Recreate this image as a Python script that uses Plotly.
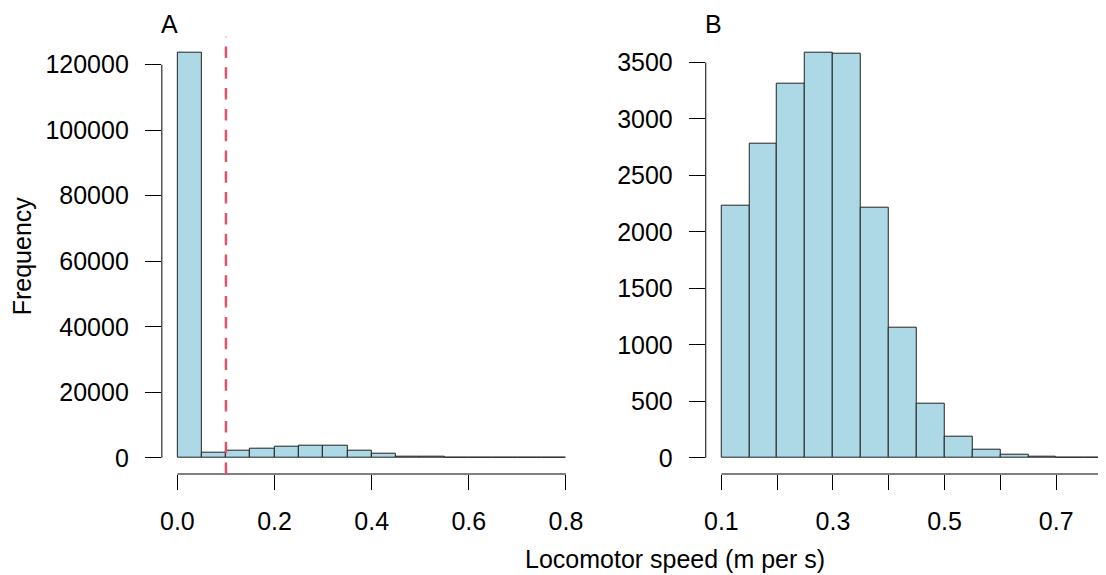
import plotly.graph_objects as go

# ---- data ----
bin_edges_all = [0.0, 0.05, 0.1, 0.15, 0.2, 0.25, 0.3, 0.35, 0.4, 0.45,
                 0.5, 0.55, 0.6, 0.65, 0.7, 0.75, 0.8]
counts_all = [123600, 1650, 2228, 2781, 3314, 3585, 3577, 2216, 1151, 483,
              186, 68, 24, 8, 2, 1]

bin_edges_moving = [0.1, 0.15, 0.2, 0.25, 0.3, 0.35, 0.4, 0.45,
                    0.5, 0.55, 0.6, 0.65, 0.7, 0.75, 0.8]
counts_moving = [2228, 2781, 3314, 3585, 3577, 2216, 1151, 483,
                 186, 68, 24, 8, 2, 1]

threshold = 0.1

xticks_a = [0.0, 0.2, 0.4, 0.6, 0.8]
xticklabels_a = ["0.0", "0.2", "0.4", "0.6", "0.8"]
yticks_a = [0, 20000, 40000, 60000, 80000, 100000, 120000]

xticks_b = [0.1, 0.2, 0.3, 0.4, 0.5, 0.6, 0.7, 0.8]
xticklabels_b = ["0.1", "", "0.3", "", "0.5", "", "0.7", ""]
yticks_b = [0, 500, 1000, 1500, 2000, 2500, 3000, 3500]

panel_titles = ["A", "B"]
ylabel = "Frequency"
xlabel = "Locomotor speed (m per s)"

# ---- styling ----
OFF = 8                      # page body margin
W, H = 1106 - OFF, 575 - OFF
FONT = "Liberation Sans, Arial, sans-serif"
FS = 25
FILL = "#ADD8E6"
EDGE = "#222222"
RED = "#DF536B"

# plot-region pixel extents in page coordinates (R style, 4% padding)
top_px, bot_px = 36.7 - OFF, 474.0 - OFF
a_left, a_right = 160.4 - OFF, 581.6 - OFF
b_left, b_right_full = 706.3 - OFF, 1129.7 - OFF   # right part is cropped by the window


def centers(edges):
    return [(edges[i] + edges[i + 1]) / 2 for i in range(len(edges) - 1)]


def widths(edges):
    return [edges[i + 1] - edges[i] for i in range(len(edges) - 1)]


def padded(lo, hi, f=0.04):
    s = hi - lo
    return [lo - f * s, hi + f * s]


fig = go.Figure()
fig.add_trace(go.Bar(x=centers(bin_edges_all), y=counts_all, width=widths(bin_edges_all),
                     marker=dict(color=FILL, line=dict(color=EDGE, width=1)),
                     xaxis="x", yaxis="y", showlegend=False))
fig.add_trace(go.Bar(x=centers(bin_edges_moving), y=counts_moving, width=widths(bin_edges_moving),
                     marker=dict(color=FILL, line=dict(color=EDGE, width=1)),
                     xaxis="x2", yaxis="y2", showlegend=False))

xr_a = padded(bin_edges_all[0], bin_edges_all[-1])
yr_a = padded(0, max(counts_all))
xr_b_full = padded(bin_edges_moving[0], bin_edges_moving[-1])
# window crops panel B on the right
crop = (W - b_left) / (b_right_full - b_left)
xr_b = [xr_b_full[0], xr_b_full[0] + crop * (xr_b_full[1] - xr_b_full[0])]
yr_b = padded(0, max(counts_moving))

ydom = [1 - bot_px / H, 1 - top_px / H]

axis_common = dict(showgrid=False, zeroline=False, showline=False, ticks="outside",
                   tickcolor="black", tickwidth=1,
                   tickfont=dict(family=FONT, size=FS, color="black"))

fig.update_layout(
    width=W, height=H, margin=dict(l=0, r=0, t=0, b=0),
    paper_bgcolor="white", plot_bgcolor="white", bargap=0,
    xaxis=dict(domain=[a_left / W, a_right / W], range=xr_a, anchor="y",
               tickvals=xticks_a, ticktext=xticklabels_a, ticklen=15,
               ticklabelstandoff=10, **axis_common),
    yaxis=dict(domain=ydom, range=yr_a, anchor="x",
               tickvals=yticks_a, ticktext=[str(v) for v in yticks_a], ticklen=16,
               ticklabelstandoff=11, **axis_common),
    xaxis2=dict(domain=[b_left / W, 1.0], range=xr_b, anchor="y2",
                tickvals=xticks_b, ticktext=xticklabels_b, ticklen=15,
                ticklabelstandoff=10, **axis_common),
    yaxis2=dict(domain=ydom, range=yr_b, anchor="x2",
                tickvals=yticks_b, ticktext=[str(v) for v in yticks_b], ticklen=16,
                ticklabelstandoff=11, **axis_common),
)

# R-style axis lines spanning only the tick range
shapes = [
    dict(type="line", xref="x", yref="y domain", x0=xticks_a[0], x1=xticks_a[-1], y0=0, y1=0,
         line=dict(color="black", width=1)),
    dict(type="line", xref="x domain", yref="y", x0=0, x1=0, y0=yticks_a[0], y1=yticks_a[-1],
         line=dict(color="black", width=1)),
    dict(type="line", xref="x2", yref="y2 domain", x0=xticks_b[0], x1=xticks_b[-1], y0=0, y1=0,
         line=dict(color="black", width=1)),
    dict(type="line", xref="x2 domain", yref="y2", x0=0, x1=0, y0=yticks_b[0], y1=yticks_b[-1],
         line=dict(color="black", width=1)),
    # threshold line
    dict(type="line", xref="x", yref="y domain", x0=threshold, x1=threshold, y0=0, y1=1,
         line=dict(color=RED, width=2.5, dash="11.5px,9.3px")),
]
fig.update_layout(shapes=shapes)

ann_font = dict(family=FONT, size=FS, color="black")
annotations = [
    dict(text=panel_titles[0], xref="x domain", yref="paper", x=0, y=1 - (23.5 - OFF) / H,
         xanchor="left", yanchor="middle", xshift=-3, showarrow=False, font=ann_font),
    dict(text=panel_titles[1], xref="x2 domain", yref="paper", x=0, y=1 - (23.5 - OFF) / H,
         xanchor="left", yanchor="middle", xshift=-3, showarrow=False, font=ann_font),
    dict(text=ylabel, xref="paper", yref="y domain", x=(20 - OFF) / W, y=0.5, textangle=-90,
         xanchor="center", yanchor="middle", showarrow=False, font=ann_font),
    dict(text=xlabel, xref="paper", yref="paper", x=(675 - OFF) / W, y=1 - (559 - OFF) / H,
         xanchor="center", yanchor="middle", showarrow=False, font=ann_font),
]
fig.update_layout(annotations=annotations)

fig.write_html("out.html")
